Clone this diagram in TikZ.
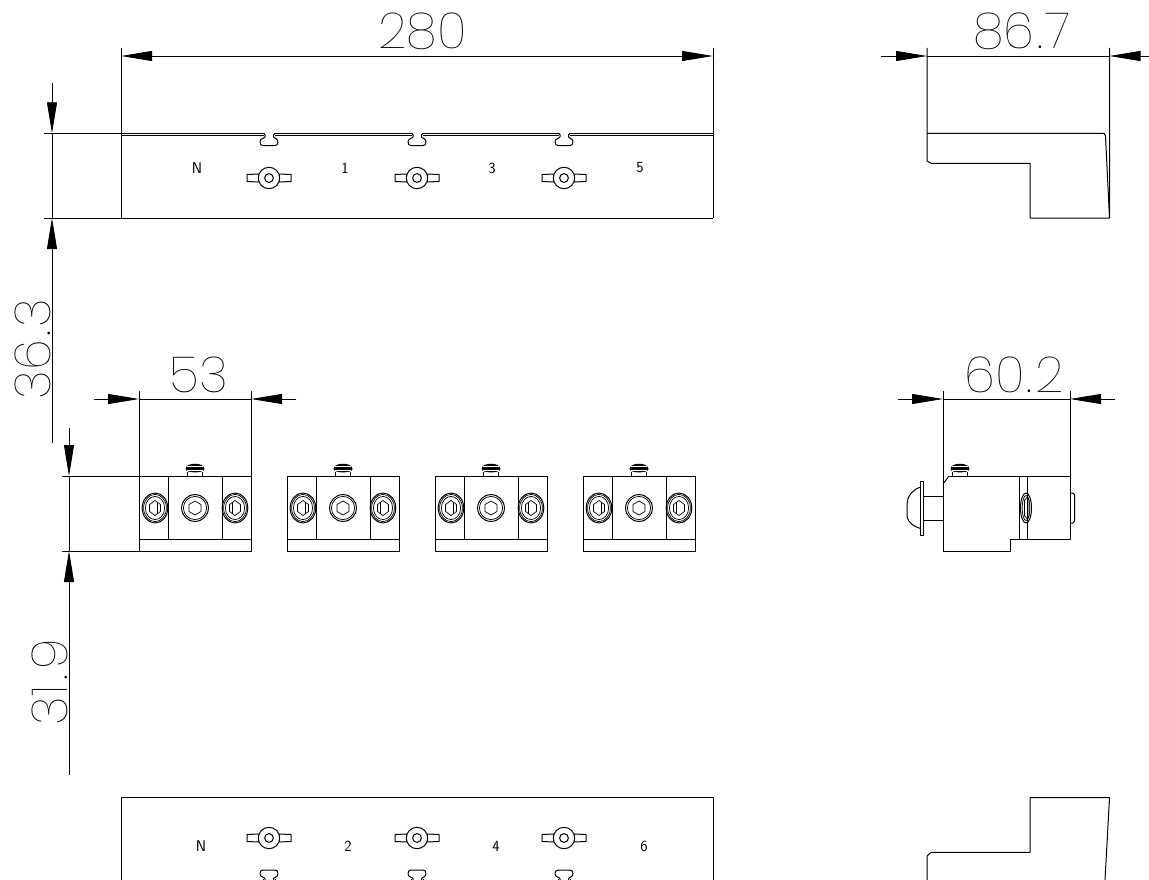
\documentclass[tikz,border=0pt]{standalone}
\usepackage{amsmath}
\usepackage{fontspec}
\usetikzlibrary{arrows.meta, positioning, shapes}

\newfontfamily\dimfont{Poppins Thin}

\tikzset{
  part/.style={line width=1pt, line join=round},
  fine/.style={line width=0.7pt, line join=round},
  dimline/.style={line width=0.8pt, {Triangle[length=31pt, width=10pt]}-{Triangle[length=31pt, width=10pt]}},
  dimtip/.style={line width=0.8pt, -{Triangle[length=31pt, width=10pt]}},
  dimplain/.style={line width=0.8pt},
  dimtext/.style={inner sep=0pt, font=\dimfont\fontsize{50}{50}\selectfont},
  termtext/.style={inner sep=0pt, font=\sffamily\fontsize{15.5}{15.5}\selectfont},
  wingnut/.pic={
    \draw [part, fill=white] (-22,-3.5) -- (-10,-4) -- (-10,4) -- (-22,3.5) -- cycle;
    \draw [part, fill=white] (22,-3.5) -- (10,-4) -- (10,4) -- (22,3.5) -- cycle;
    \draw [part, fill=white] (0,0) circle (10.7);
    \draw [part] (0,0) circle (4.4);
  },
  slotmark/.pic={
    \draw [part] (-5,0) .. controls (-3.5,0) and (-4,3) .. (-4,3.5) .. controls (-4,5) and (-9,5) .. (-9,8.5)
      .. controls (-9,11) and (-8,12.3) .. (-6,12.3) -- (6,12.3) .. controls (8,12.3) and (9,11) .. (9,8.5)
      .. controls (9,5) and (4.5,5) .. (4.5,3.5) .. controls (4.5,3) and (4,0) .. (6,0);
    \draw [part] (-5,2.4) -- (-6,2.4);
    \draw [part] (6,2.4) -- (7,2.4);
  },
  sidescrew/.pic={
    \draw [part] (0,0) ellipse (12.8 and 15);
    \draw [fine] (0,0) ellipse (11.4 and 13.6);
    \draw [fine] (0,0) ellipse (9.6 and 11.6);
    \draw [fine] (-5.5,-3.5) -- (0,-7.5) -- (5.5,-3.5) -- (5.5,3.5) -- (0,7.5) -- (-5.5,3.5) -- cycle;
    \draw [fine] (\sideline,-5.5) -- (\sideline,5.5);
  },
  hexscrew/.pic={
    \draw [part] (0,0) circle (13.4);
    \draw [fine] (0,0) circle (11.6);
    \draw [fine] (-6,-3.5) -- (0,-7) -- (6,-3.5) -- (6,3.5) -- (0,7) -- (-6,3.5) -- cycle;
  },
  topscrew/.pic={
    \draw [part] (-7.5,-4) -- (-7.5,0) (7.5,-4) -- (7.5,0);
    \fill (-9.5,-7) .. controls (-9.5,-14) and (9.5,-14) .. (9.5,-7) .. controls (9.5,-2.5) and (-9.5,-2.5) .. (-9.5,-7);
    \draw [white, line width=0.6pt] (-8,-9.3) -- (8,-9.3);
    \draw [white, line width=0.5pt] (-8,-5.6) -- (8,-5.6);
  }
}

\begin{document}
\begin{tikzpicture}[x=1pt, y=-1pt]

\clip (0,0) rectangle (1149,880);
\fill [white] (0,0) rectangle (1149,880);

% top view
\draw [part] (44,133.3) -- (264,133.3);
\draw [part] (121,135.7) -- (264,135.7);
\draw [part] (275,133.3) -- (412,133.3) (275,135.7) -- (412,135.7);
\draw [part] (423,133.3) -- (559,133.3) (423,135.7) -- (559,135.7);
\draw [part] (570,133.3) -- (713,133.3) (570,135.7) -- (713,135.7);
\draw [part] (121,48) -- (121,218);
\draw [part] (713,48) -- (713,218);
\draw [part] (44,218) -- (713,218);
\foreach \x in {269,417,564} {
  \pic at (\x,133.3) {slotmark};
  \pic at (\x,178) {wingnut};
}
\node [termtext] (topn) at (197,168) {N};
\node [termtext] (top1) at (345,168) {1};
\node [termtext] (top3) at (492,168) {3};
\node [termtext] (top5) at (640,168) {5};

% top view, dimensions
\coordinate (wa) at (121,56);
\coordinate (wb) at (713,56);
\draw [dimline] (wa) -- (wb);
\node [dimtext, anchor=base] (dimw) at (422.5,49) {280};
\coordinate (ha) at (52,83);
\coordinate (hb) at (52,133.3);
\coordinate (hc) at (52,218);
\coordinate (hd) at (52,443);
\draw [dimtip] (ha) -- (hb);
\draw [dimplain] (hb) -- (hc);
\draw [dimtip] (hd) -- (hc);
\node [dimtext, rotate=90, anchor=base] (dimh) at (50,349) {36\kern.07em.\kern.07em3};

% side view
\draw [part] (927,48) -- (927,161) -- (931,163.3) -- (1030,163.3) -- (1030,218) -- (1109.5,218) -- (1109.5,48);
\draw [part] (927,133.3) -- (1104,133.3) -- (1105.5,136) -- (1109.5,218);
\coordinate (sa) at (927,56);
\coordinate (sb) at (1109.5,56);
\coordinate (sc) at (881,56);
\coordinate (sd) at (1149,56);
\draw [dimtip] (sc) -- (sa);
\draw [dimplain] (sa) -- (sb);
\draw [dimtip] (sd) -- (sb);
\node [dimtext, anchor=base] (dims) at (1022,49) {86\kern.05em.\kern.05em7};

% clamps
\foreach \x in {139,287,435,583} {
  \draw [part] (\x,476) rectangle ++(112,75);
  \draw [part] (\x,539) -- ++(112,0);
  \draw [part] (\x+29.5,476) -- ++(0,63);
  \draw [part] (\x+83,476) -- ++(0,63);
  \def\sideline{2.5}
  \pic at (\x+16,508) {sidescrew};
  \def\sideline{-2.5}
  \pic at (\x+96,508) {sidescrew};
  \pic at (\x+56,508) {hexscrew};
  \pic at (\x+56,476) {topscrew};
}
\draw [part] (139,391) -- (139,476);
\draw [part] (251,391) -- (251,476);
\draw [part] (62,476) -- (139,476);
\draw [part] (62,551) -- (139,551);
\coordinate (ca) at (139,399);
\coordinate (cb) at (251,399);
\coordinate (cc) at (94,399);
\coordinate (cd) at (296,399);
\draw [dimtip] (cc) -- (ca);
\draw [dimplain] (ca) -- (cb);
\draw [dimtip] (cd) -- (cb);
\node [dimtext, anchor=base] (dimc) at (199,392) {53};
\coordinate (ga) at (69,428);
\coordinate (gb) at (69,476);
\coordinate (gc) at (69,551);
\coordinate (gd) at (69,775);
\draw [dimtip] (ga) -- (gb);
\draw [dimplain] (gb) -- (gc);
\draw [dimtip] (gd) -- (gc);
\node [dimtext, rotate=90, anchor=base] (dimg) at (67,682) {31\kern.1em.\kern.1em9};

% clamp side view
\draw [part] (949,476) -- (1070,476);
\draw [part] (943,391) -- (943,551) -- (1010.5,551) -- (1010.5,539) -- (1070,539) -- (1070,391);
\draw [part] (943,484) -- (949,476);
\draw [part] (1019.5,476) -- (1019.5,539);
\draw [part] (1027.5,476) -- (1027.5,539);
\draw [part] (1026,508) ellipse (5.5 and 15);
\draw [fine] (1026,508) ellipse (3.8 and 12.5);
\draw [fine] (1024.5,500) -- (1027.5,497) -- (1029,500) -- (1029,516) -- (1027.5,519) -- (1024.5,516) -- cycle;
\draw [part] (1070,493) -- (1073,493) -- (1074.5,495) -- (1074.5,521) -- (1073,523) -- (1070,523);
\draw [part] (920.5,481) rectangle (923.5,535);
\draw [part] (923.5,496.5) -- (943,496.5);
\draw [part] (923.5,520) -- (943,520);
\draw [part] (920.5,487) .. controls (912,490) and (907,497) .. (907,504) -- (907,517) .. controls (908,522) and (914,527) .. (920.5,528.5);
\pic at (960,476) {topscrew};
\coordinate (ea) at (943,399);
\coordinate (eb) at (1070,399);
\coordinate (ec) at (898,399);
\coordinate (ed) at (1115,399);
\draw [dimtip] (ec) -- (ea);
\draw [dimplain] (ea) -- (eb);
\draw [dimtip] (ed) -- (eb);
\node [dimtext, anchor=base] (dime) at (1014,392) {60\kern.05em.\kern.05em2};

% bottom view
\draw [part] (121,880) -- (121,797.7) -- (713,797.7) -- (713,880);
\foreach \x in {269,417,564} {
  \pic at (\x,838) {wingnut};
  \pic [yscale=-1] at (\x,882.3) {slotmark};
}
\node [termtext] (botn) at (201,846) {N};
\node [termtext] (bot2) at (348,846) {2};
\node [termtext] (bot4) at (496,846) {4};
\node [termtext] (bot6) at (644,846) {6};

% bottom side view
\draw [part] (927,880) -- (927,856) -- (931,852.3) -- (1030,852.3) -- (1030,797.7) -- (1109.5,797.7) -- (1105,880);

\end{tikzpicture}
\end{document}
